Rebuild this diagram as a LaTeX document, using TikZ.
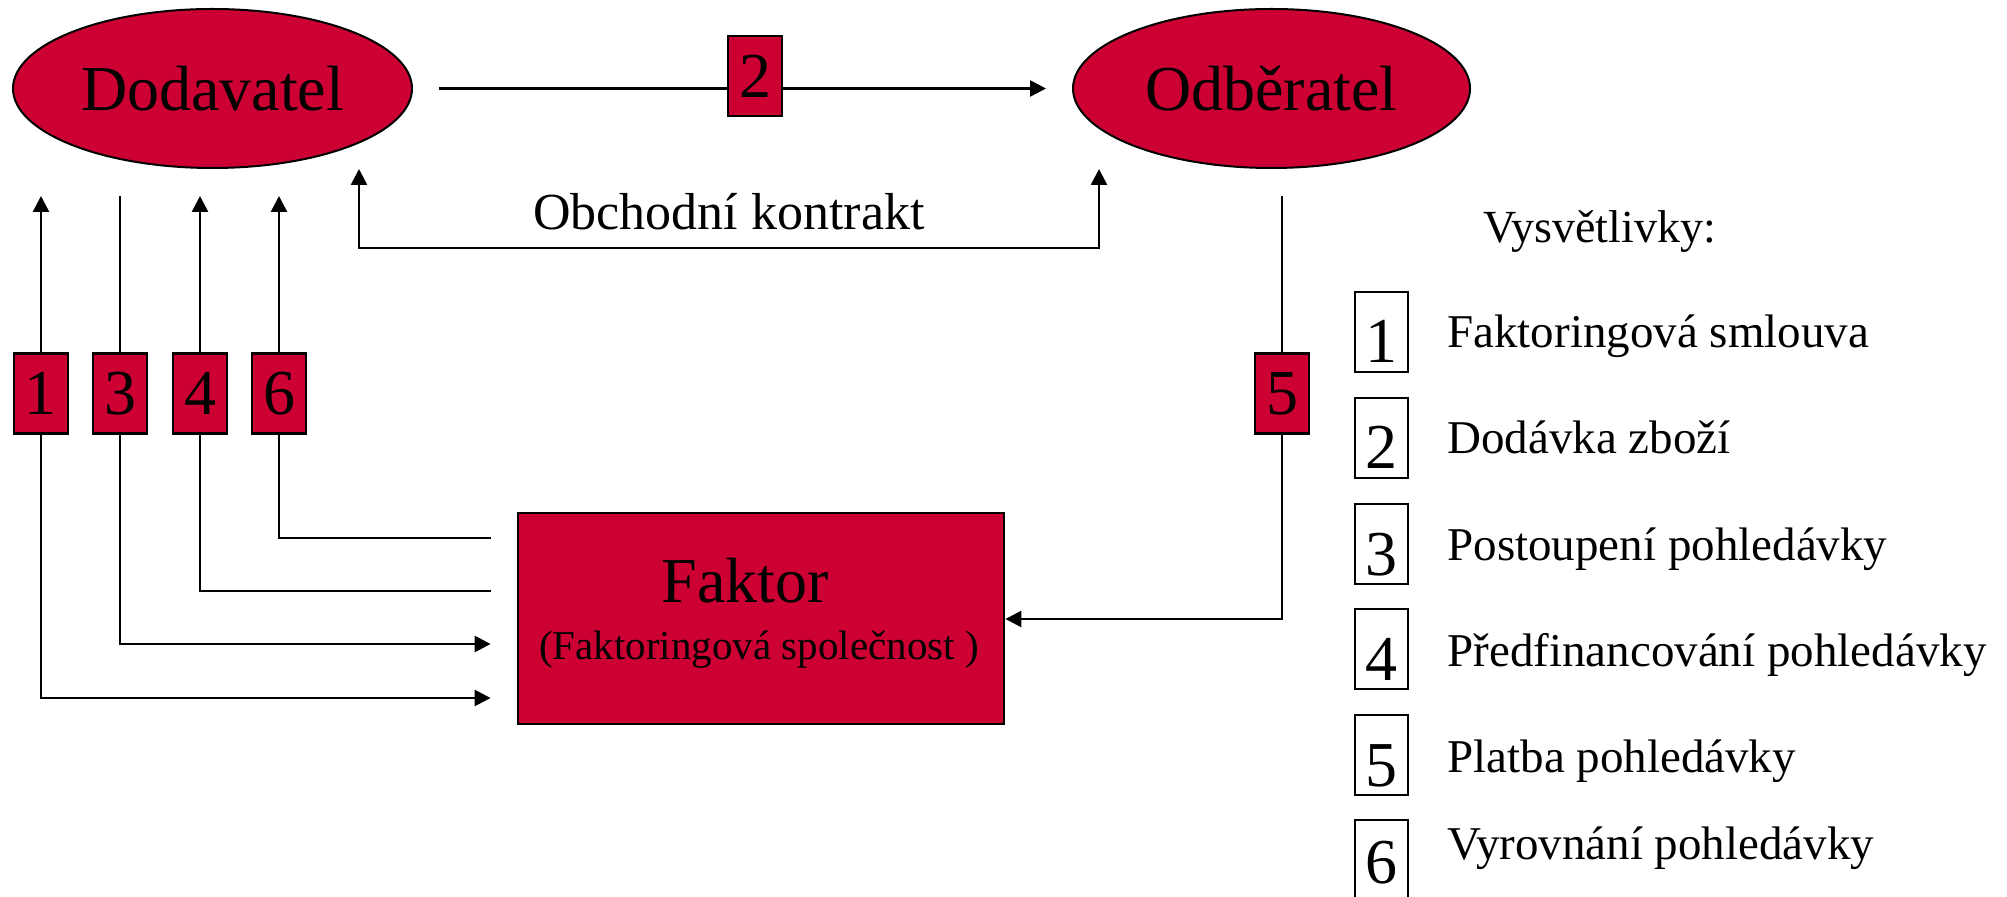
\documentclass[tikz,border=0pt]{standalone}
\usepackage{fontspec}
\setmainfont{Liberation Serif}
\usetikzlibrary{shapes.geometric,arrows.meta}
\definecolor{factorred}{RGB}{204,0,51}

\begin{document}
\begin{tikzpicture}[x=0.5pt,y=-0.5pt,
  party/.style={ellipse,draw=black,line width=1pt,fill=factorred,inner sep=0pt,
    minimum height=79.5pt,font=\fontsize{32}{38}\selectfont},
  numbox/.style={draw=black,line width=1.4pt,fill=factorred,inner sep=0pt,
    minimum width=27pt,minimum height=40pt,font=\fontsize{32}{38}\selectfont},
  keybox/.style={draw=black,line width=1pt,fill=white,inner sep=0pt,
    minimum width=26.5pt,minimum height=40pt,text height=31pt,text depth=0pt,
    font=\fontsize{32}{38}\selectfont},
  keytext/.style={anchor=base west,inner sep=0pt,font=\fontsize{23.5}{28}\selectfont},
  flow/.style={line width=1.3pt},
  tip/.style={-{Triangle[length=8pt,width=8pt]}},
  tipboth/.style={{Triangle[length=8pt,width=8pt]}-{Triangle[length=8pt,width=8pt]}}
]
\path[use as bounding box] (0,0) rectangle (2007,897);

% parties
\node[party,minimum width=199.5pt] (dod) at (212.5,88.5) {Dodavatel};
\node[party,minimum width=198.5pt] (odb) at (1271.5,88.5) {Odběratel};

% delivery of goods
\draw[flow,tip,shorten <=13pt,shorten >=13pt] (dod.east) -- (odb.west);
\node[numbox] (n2) at (755,76) {2};

% business contract
\coordinate (kL) at (359,248);
\coordinate (kR) at (1099,248);
\draw[flow,tipboth] (dod.south -| kL) -- (kL) -- (kR) -- (odb.south -| kR);
\node[anchor=base,inner sep=0pt,font=\fontsize{26}{31}\selectfont] (contract) at (729,230) {Obchodní kontrakt};

% factor
\node[draw=black,line width=1.4pt,fill=factorred,minimum width=243pt,minimum height=105.5pt,inner sep=0pt] (faktor) at (761,618.5) {};
\node[anchor=base,inner sep=0pt,font=\fontsize{32}{38}\selectfont] (ftitle) at (745,603) {Faktor};
\node[anchor=base,inner sep=0pt,font=\fontsize{20.5}{25}\selectfont] (fsub) at (759,659) {(Faktoringová společnost )};

% step labels
\node[numbox] (n1) at (41,393.5) {1};
\node[numbox] (n3) at (120,393.5) {3};
\node[numbox] (n4) at (200,393.5) {4};
\node[numbox] (n6) at (279,393.5) {6};
\node[numbox] (n5) at (1282,393.5) {5};

% row and column helpers
\coordinate (topY) at (0,196);
\coordinate (row6) at (0,538);
\coordinate (row4) at (0,591);
\coordinate (row3) at (0,644);
\coordinate (row1) at (0,698);
\coordinate (row5) at (0,619);

% flows between supplier and factor
\draw[flow,tip] (n1.north) -- (n1.north |- topY);
\draw[flow,tip,shorten >=13pt] (n1.south) |- (faktor.west |- row1);
\draw[flow] (n3.north) -- (n3.north |- topY);
\draw[flow,tip,shorten >=13pt] (n3.south) |- (faktor.west |- row3);
\draw[flow,tip] (n4.north) -- (n4.north |- topY);
\draw[flow,shorten >=13pt] (n4.south) |- (faktor.west |- row4);
\draw[flow,tip] (n6.north) -- (n6.north |- topY);
\draw[flow,shorten >=13pt] (n6.south) |- (faktor.west |- row6);

% payment from customer to factor
\draw[flow] (n5.north) -- (n5.north |- topY);
\draw[flow,tip] (n5.south) |- (faktor.east |- row5);

% legend
\node[anchor=base west,inner sep=0pt,font=\fontsize{23}{28}\selectfont] (legtitle) at (1483,243) {Vysvětlivky:};
\node[keybox] (k1) at (1381.5,332) {1};
\node[keybox] (k2) at (1381.5,438) {2};
\node[keybox] (k3) at (1381.5,544) {3};
\node[keybox] (k4) at (1381.5,649) {4};
\node[keybox] (k5) at (1381.5,755) {5};
\node[keybox,text height=23pt] (k6) at (1381.5,860) {6};
\node[keytext] (t1) at (1447,348) {Faktoringová smlouva};
\node[keytext] (t2) at (1447,454) {Dodávka zboží};
\node[keytext] (t3) at (1447,560) {Postoupení pohledávky};
\node[keytext] (t4) at (1447,666) {Předfinancování pohledávky};
\node[keytext] (t5) at (1447,772) {Platba pohledávky};
\node[keytext] (t6) at (1447,859) {Vyrovnání pohledávky};
\end{tikzpicture}
\end{document}
